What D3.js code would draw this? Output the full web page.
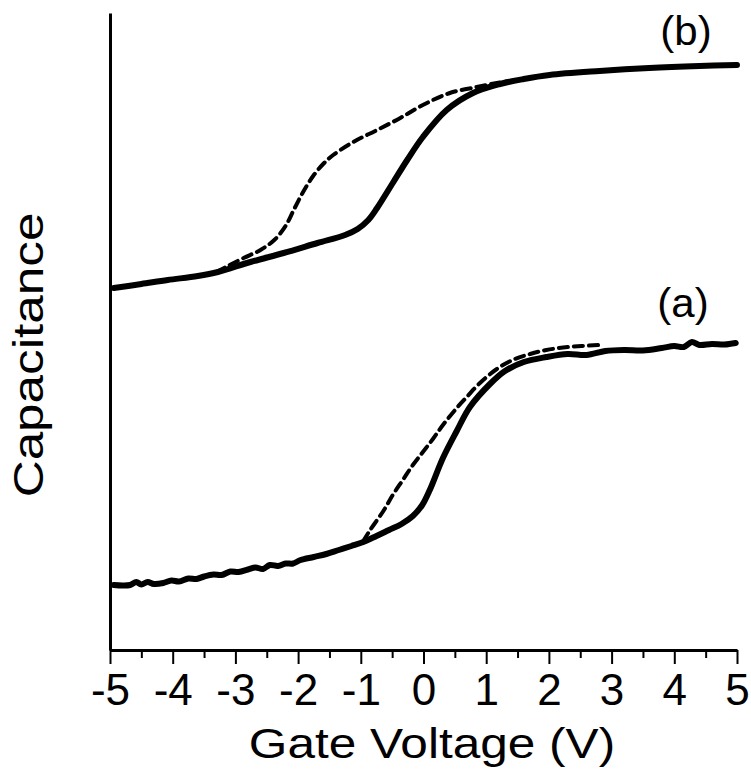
<!DOCTYPE html>
<html>
<head>
<meta charset="utf-8">
<script src="https://d3js.org/d3.v7.min.js"></script>
<style>
  body { margin: 0; background: #fff; }
  text { font-family: "Liberation Sans", Arial, sans-serif; fill: #000; }
  .line { fill: none; stroke: #000; stroke-linejoin: round; stroke-linecap: round; }
</style>
</head>
<body>
<script>
// gate voltage (V) vs capacitance (arb. units)
var solidB = [[-4.94,36.2],[-4.5,36.6],[-4.08,37.0],[-3.6,37.4],[-3.28,37.8],[-2.76,38.8],
  [-2.23,39.7],[-1.69,40.7],[-1.25,41.5],[-1.05,42.1],[-0.88,43.0],[-0.74,44.2],[-0.49,46.7],
  [-0.26,49.0],[-0.01,51.3],[0.37,54.0],[0.79,55.7],[1.22,56.6],[1.6,57.1],[2.01,57.5],
  [2.81,57.9],[3.60,58.2],[4.40,58.4],[5.0,58.5]];

var dashedB = [[-3.3,37.8],[-3.12,38.4],[-2.87,39.2],[-2.6,40.0],[-2.38,41.0],[-2.2,42.4],
  [-2.07,44.0],[-1.92,45.8],[-1.76,47.4],[-1.60,48.6],[-1.44,49.5],[-1.12,50.8],[-0.74,52.0],
  [-0.37,53.2],[-0.01,54.5],[0.42,55.7],[0.85,56.3],[1.17,56.7],[1.5,57.0]];

var solidA = [[-4.94,6.5],[-4.80,6.45],[-4.68,6.5],[-4.58,6.8],[-4.50,6.55],[-4.40,6.8],[-4.30,6.6],
  [-4.15,6.7],[-4.02,6.95],[-3.90,6.85],[-3.75,7.15],[-3.62,7.1],[-3.50,7.35],[-3.35,7.55],
  [-3.22,7.5],[-3.08,7.85],[-2.95,7.8],[-2.80,8.05],[-2.68,8.25],[-2.56,8.1],[-2.45,8.5],
  [-2.32,8.4],[-2.20,8.65],[-2.08,8.65],[-1.96,9.0],[-1.75,9.3],[-1.55,9.6],[-1.35,10.0],
  [-1.15,10.4],[-0.96,10.8],[-0.75,11.4],[-0.55,12.0],[-0.35,12.6],[-0.17,13.4],[-0.02,14.5],
  [0.10,16.0],[0.31,19.2],[0.53,21.9],[0.74,24.3],[1.06,26.6],[1.3,27.9],[1.6,28.8],[1.96,29.3],
  [2.3,29.6],[2.6,29.5],[2.9,29.9],[3.2,30.0],[3.5,29.95],[3.8,30.2],[4.0,30.4],[4.15,30.3],
  [4.28,30.8],[4.4,30.5],[4.6,30.6],[4.8,30.55],[4.98,30.7]];

var dashedA = [[-0.96,10.9],[-0.85,12.0],[-0.64,13.9],[-0.49,15.5],[-0.33,17.0],[-0.17,18.5],
  [-0.01,19.8],[0.15,21.1],[0.31,22.5],[0.53,24.2],[0.69,25.3],[0.90,26.7],[1.17,28.1],
  [1.42,29.0],[1.7,29.6],[1.96,30.0],[2.3,30.3],[2.81,30.5]];

var majorTicks = [-5,-4,-3,-2,-1,0,1,2,3,4,5];
var minorTicks = [-4.5,-3.5,-2.5,-1.5,-0.5,0.5,1.5,2.5,3.5,4.5];

var width = 751, height = 771;

var x = d3.scaleLinear().domain([-5, 5]).range([110, 737]);
var y = d3.scaleLinear().domain([0, 63.7]).range([650, 13]);

var svg = d3.select("body").append("svg")
    .attr("width", width)
    .attr("height", height);

// minor ticks
var xMinor = svg.append("g")
    .attr("transform", "translate(0,650)")
    .call(d3.axisBottom(x).tickValues(minorTicks).tickSize(8).tickSizeOuter(0).tickFormat(""));
xMinor.select(".domain").remove();
xMinor.selectAll("line").attr("stroke-width", 2);

// major ticks + labels
var xAxis = svg.append("g")
    .attr("transform", "translate(0,650)")
    .call(d3.axisBottom(x).tickValues(majorTicks).tickSize(14).tickSizeOuter(0)
      .tickFormat(function(d) { return String(d); }));
xAxis.select(".domain").attr("stroke-width", 3);
xAxis.selectAll(".tick line").attr("stroke-width", 2);
xAxis.selectAll(".tick text")
    .attr("y", 55)
    .attr("dy", 0)
    .style("font-size", "44px")
    .style("font-family", "'Liberation Sans', Arial, sans-serif");

var yAxis = svg.append("g")
    .attr("transform", "translate(110,0)")
    .call(d3.axisLeft(y).tickValues([]).tickSizeOuter(0));
yAxis.select(".domain").attr("stroke-width", 3);

var line = d3.line()
    .x(function(d) { return x(d[0]); })
    .y(function(d) { return y(d[1]); })
    .curve(d3.curveCatmullRom.alpha(0.5));

[dashedB, dashedA].forEach(function(s) {
  svg.append("path").datum(s)
      .attr("class", "line")
      .attr("stroke-width", 4)
      .attr("stroke-linecap", "butt")
      .attr("stroke-dasharray", "9,6")
      .attr("d", line);
});

[solidB, solidA].forEach(function(s) {
  svg.append("path").datum(s)
      .attr("class", "line")
      .attr("stroke-width", 6)
      .attr("d", line);
});

// titles
svg.append("text")
    .attr("transform", "translate(432,758) scale(1.18,1)")
    .attr("text-anchor", "middle")
    .style("font-size", "42px")
    .text("Gate Voltage (V)");

svg.append("text")
    .attr("transform", "translate(43,355) rotate(-90) scale(1.22,1)")
    .attr("text-anchor", "middle")
    .style("font-size", "42px")
    .text("Capacitance");

svg.append("text")
    .attr("transform", "translate(686,45) scale(1.05,1)")
    .attr("text-anchor", "middle")
    .style("font-size", "40px")
    .text("(b)");

svg.append("text")
    .attr("transform", "translate(683,317) scale(1.05,1)")
    .attr("text-anchor", "middle")
    .style("font-size", "40px")
    .text("(a)");
</script>
</body>
</html>
